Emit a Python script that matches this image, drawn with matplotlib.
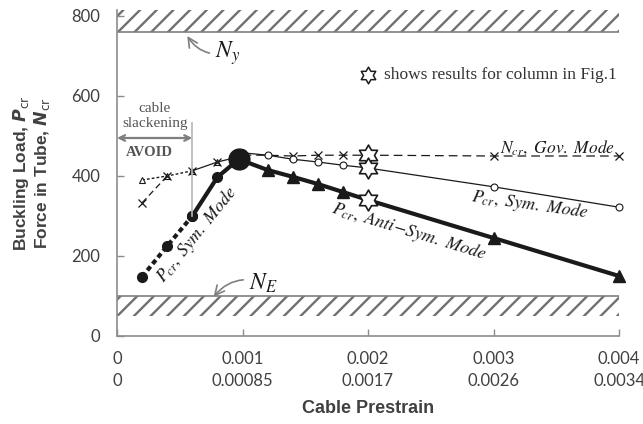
import matplotlib
matplotlib.use("Agg")
import matplotlib.pyplot as plt
from matplotlib.path import Path
import numpy as np

plt.rcParams['mathtext.fontset'] = 'stix'
plt.rcParams['hatch.linewidth'] = 1.7

# data
strain = [0.0002, 0.0004, 0.0006, 0.0008]
sym_thick = [148, 225, 300, 397]
peak_x, peak_y = 0.00097, 442

anti_x = [0.0012, 0.0014, 0.0016, 0.0018, 0.002, 0.003, 0.004]
anti_y = [415, 398, 380, 360, 340, 245, 150]

pre_anti_y = [390, 400, 413, 435]

sym_x = [0.001, 0.0012, 0.0014, 0.0016, 0.0018, 0.002, 0.003, 0.004]
sym_y = [458, 452, 442, 435, 427, 420, 373, 322]

gov_pre_x = [0.0002, 0.0004]
gov_pre_y = [333, 400]
gov_x = [0.001, 0.0012, 0.0014, 0.0016, 0.0018, 0.002, 0.003, 0.004]
gov_y = [452, 452, 450, 452, 452, 452, 450, 450]
gov_mark = [2, 3, 4, 6, 7]

star_x = [0.002, 0.002, 0.002]
star_y = [452, 420, 340]

xticks = [0, 0.001, 0.002, 0.003, 0.004]
xlabels = ['0\n0', '0.001\n0.00085', '0.002\n0.0017', '0.003\n0.0026', '0.004\n0.0034']
yticks = [0, 200, 400, 600, 800]

# six pointed star marker
ang = np.pi / 2 + np.arange(12) * np.pi / 6
rad = np.where(np.arange(12) % 2 == 0, 1.0, 1 / np.sqrt(3))
star = Path(np.column_stack([rad * np.cos(ang), rad * np.sin(ang)]).tolist() + [[0, 1]], closed=True)

k = '#1a1a1a'
gray = '#7f7f7f'
fig = plt.figure(figsize=(6.43, 4.24), dpi=100)
ax = fig.add_axes([117 / 643, 1 - 336 / 424, 502 / 643, 326 / 424])
ax.set_xlim(0, 0.004)
ax.set_ylim(0, 815)

# hatched bands
ax.fill_between([0, 0.004], 760, 815, facecolor='none', edgecolor='#707070', hatch='//', linewidth=0)
ax.fill_between([0, 0.004], 50, 100, facecolor='none', edgecolor='#707070', hatch='//', linewidth=0)
ax.plot([0, 0.004], [760, 760], color=gray, lw=1.2)
ax.plot([0, 0.004], [100, 100], color=gray, lw=1.2)

# thin lines
ax.plot(strain[:3], pre_anti_y[:3], ls=(0, (2, 1.5)), color=k, lw=1, marker='^', ms=5,
        mfc='white', mec=k, mew=0.8)
ax.plot(strain[2:] + [peak_x], pre_anti_y[2:] + [448], color=k, lw=0.9, marker='^', ms=5,
        mfc='white', mec=k, mew=0.8, markevery=[1])
ax.plot(gov_pre_x, gov_pre_y, ls=(0, (5, 3)), color=k, lw=0.9, marker='x', ms=6, mew=0.9)
ax.plot(strain[2:], pre_anti_y[2:], ls='none', marker='x', ms=6, mew=0.9, color=k)
ax.plot(gov_x, gov_y, ls=(0, (7, 4)), color=k, lw=0.9, marker='x', ms=6, mew=0.9,
        markevery=gov_mark, clip_on=False)
ax.plot(sym_x, sym_y, color=k, lw=0.9, marker='o', ms=5, mfc='white', mec=k, mew=0.8,
        clip_on=False)

# thick lines
ax.plot(strain[:3], sym_thick[:3], ls=(0, (1.2, 0.8)), color=k, lw=3, marker='o', ms=7)
ax.plot(strain[2:] + [peak_x], sym_thick[2:] + [peak_y], color=k, lw=3, marker='o', ms=7)
ax.plot([peak_x] + anti_x, [peak_y] + anti_y, color=k, lw=3, marker='^', ms=8,
        markevery=[1, 2, 3, 4, 6, 7], clip_on=False)
ax.plot([peak_x], [peak_y], 'o', color=k, ms=15)

ax.plot(star_x, star_y, ls='none', marker=star, ms=15, mfc='white', mec=k, mew=1.2, zorder=5)

# cable slackening zone
ax.plot([0.0006, 0.0006], [300, 532], color='#b5b5b5', lw=1.2)
ax.annotate('', xy=(0, 495), xytext=(0.0006, 495),
            arrowprops=dict(arrowstyle='<->', color=gray, lw=1.6, shrinkA=0, shrinkB=0))
ax.text(0.0003, 570, 'cable', ha='center', va='center', color='#555555',
        family='Liberation Serif', fontsize=11)
ax.text(0.0003, 530, 'slackening', ha='center', va='center', color='#555555',
        family='Liberation Serif', fontsize=11)
ax.text(0.00026, 458, 'AVOID', ha='center', va='center', color='#555555',
        family='Liberation Serif', fontsize=10.5, weight='bold')

# N_y and N_E
ax.annotate(r'$N_y$', xy=(0.00056, 750), xytext=(0.00078, 708), fontsize=17, color=k,
            va='center', arrowprops=dict(arrowstyle='->', color=gray, lw=1.2,
                                         connectionstyle='arc3,rad=-0.35', shrinkA=2, shrinkB=0))
ax.annotate(r'$N_E$', xy=(0.00077, 98), xytext=(0.00105, 133), fontsize=17, color=k,
            va='center', arrowprops=dict(arrowstyle='->', color=gray, lw=1.2,
                                         connectionstyle='arc3,rad=0.35', shrinkA=2, shrinkB=0))

# star note
ax.plot([0.002], [652], ls='none', marker=star, ms=12, mfc='white', mec=k, mew=1.1)
ax.text(0.00213, 652, 'shows results for column in Fig.1', va='center', ha='left',
        family='Liberation Serif', fontsize=12.5, color='#333333')

# curve labels
ax.text(0.00064, 252, r'$P_{cr},\ Sym.\ Mode$', rotation=51, ha='center', va='center',
        fontsize=13, color=k, rotation_mode='anchor')
ax.text(0.00233, 262, r'$P_{cr},\ Anti\!-\!Sym.\ Mode$', rotation=-17, ha='center',
        va='center', fontsize=13, color=k, rotation_mode='anchor')
ax.text(0.00351, 472, r'$N_{cr},\ Gov.\ Mode$', ha='center', va='center', fontsize=12.5,
        color=k)
ax.text(0.00329, 327, r'$P_{cr},\ Sym.\ Mode$', rotation=-8, ha='center', va='center',
        fontsize=13, color=k, rotation_mode='anchor')

# axes styling
for s in ['top', 'right']:
    ax.spines[s].set_visible(False)
for s in ['left', 'bottom']:
    ax.spines[s].set_color('#8c8c8c')
    ax.spines[s].set_linewidth(1.2)
ax.set_xticks(xticks)
ax.set_xticklabels(xlabels, family='Lato', fontsize=12, color='#404040', linespacing=1.45)
ax.set_yticks(yticks)
ax.set_yticklabels([str(v) for v in yticks], family='Lato', fontsize=12, color='#404040')
ax.tick_params(direction='in', length=5, color='#8c8c8c', width=1)
ax.tick_params(axis='x', pad=11)
ax.tick_params(axis='y', pad=12)

ax.set_xlabel('Cable Prestrain', family='Liberation Sans', weight='bold', fontsize=13,
              color='#404040', labelpad=8)
ax.set_ylabel('Buckling Load, $\\mathbfit{P}_{\\mathrm{cr}}$\nForce in Tube, $\\mathbfit{N}_{\\mathrm{cr}}$',
              family='Liberation Sans', weight='bold', fontsize=12.5, color='#404040',
              math_fontfamily='dejavusans', labelpad=14, linespacing=1.1)

fig.savefig('out.png', dpi=100)
